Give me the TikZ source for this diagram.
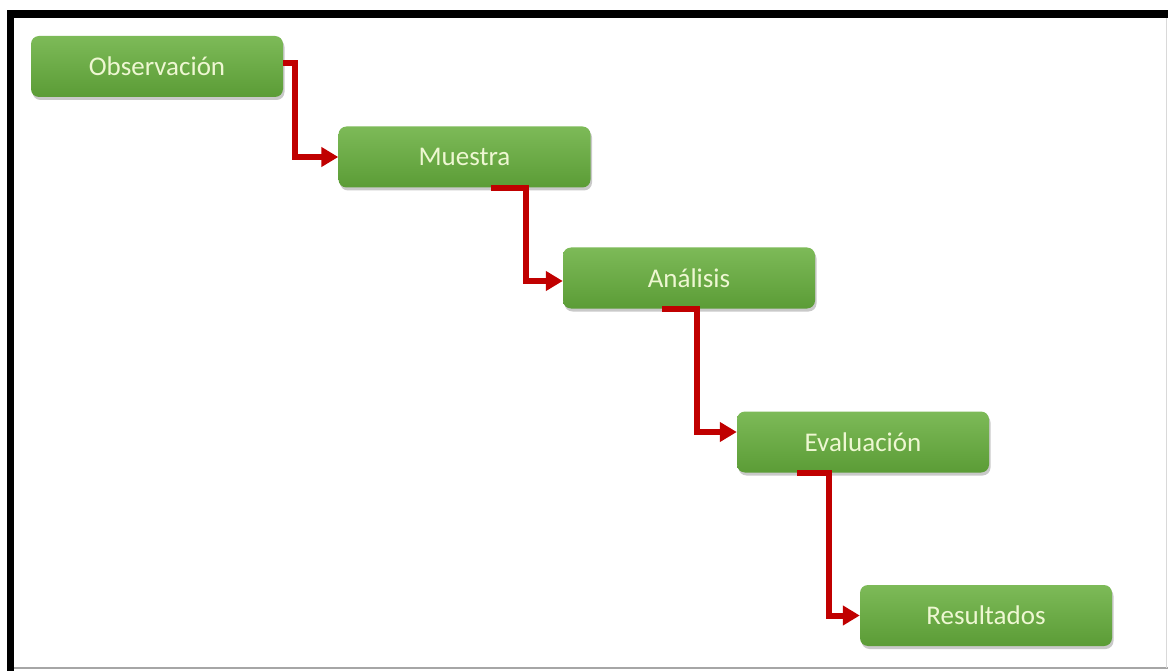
\documentclass[tikz,border=0pt]{standalone}
\usepackage{fontspec}
\setmainfont{Carlito}
\usetikzlibrary{arrows.meta,shadows}
\definecolor{steptop}{HTML}{7DBA58}
\definecolor{stepbot}{HTML}{5B9C36}
\definecolor{steptext}{HTML}{EEF7D2}
\definecolor{linkred}{HTML}{C00000}
\tikzset{
	stepbox/.style={rounded corners=8pt,minimum width=252pt,minimum height=61pt,
		top color=steptop,bottom color=stepbot,draw=none,
		drop shadow={shadow xshift=1.5pt,shadow yshift=-3pt,fill=black!35,opacity=.6},
		text=steptext,font=\fontsize{27}{31}\selectfont,inner sep=0pt},
	link/.style={->,draw=linkred,line width=6pt}
}
\begin{document}
\begin{tikzpicture}[x=1pt,y=-1pt,>={Triangle[length=17pt,width=19pt]}]
		\useasboundingbox (0,0) rectangle (1168,671);
		\fill[white] (0,0) rectangle (1168,671);
		% frame
		\fill[black] (7,10) rectangle (1168,18);
		\fill[black] (7,10) rectangle (14,671);
		\draw[gray!70,line width=1.5pt] (14,668) -- (1168,668);
		\draw[gray!30,line width=1.5pt] (1166.5,18) -- (1166.5,668);
		% steps
		\node[stepbox] (obs) at (157,66.5) {Observación};
		\node[stepbox] (mue) at (464.5,157) {Muestra};
		\node[stepbox] (ana) at (689,278) {Análisis};
		\node[stepbox] (eva) at (863,442) {Evaluación};
		\node[stepbox] (res) at (986,615.5) {Resultados};
		% links
		\draw[link] ([yshift=3pt]obs.east) -- ++(12,0) |- (mue.west);
		\draw[link] ([xshift=26pt]mue.south) -- ++(35,0) |- ([yshift=-3pt]ana.west);
		\draw[link] ([xshift=-27pt]ana.south) -- ++(35,0) |- ([yshift=10pt]eva.west);
		\draw[link] ([xshift=-66pt]eva.south) -- ++(32,0) |- (res.west);
	\end{tikzpicture}
\end{document}
